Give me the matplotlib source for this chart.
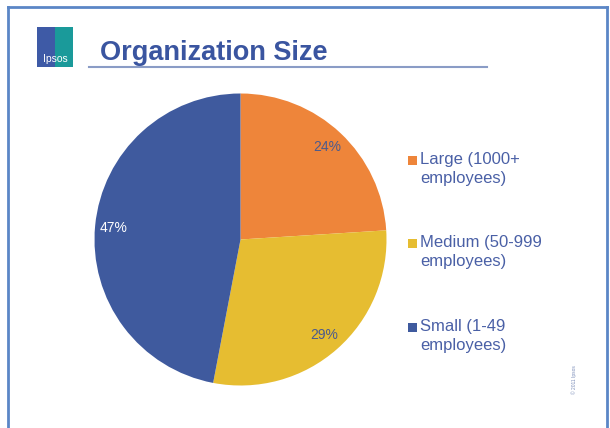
import matplotlib
matplotlib.use("Agg")
import matplotlib.pyplot as plt
from matplotlib.lines import Line2D
from matplotlib.patches import Rectangle

plt.rcParams['font.family'] = ['Liberation Sans', 'DejaVu Sans']

# Data
categories = ['Large (1000+\nemployees)', 'Medium (50-999\nemployees)', 'Small (1-49\nemployees)']
shares = [24, 29, 47]
colors = ['#EE853A', '#E6BD31', '#3F5A9E']
pct_colors = ['#4A5A8E', '#4A5A8E', 'white']
title = 'Organization Size'

W, H = 610, 428
fig = plt.figure(figsize=(W / 100, H / 100), dpi=100)
fig.patch.set_facecolor('white')

def fx(x):
    return x / W

def fy(y):
    return 1 - y / H

# slide frame (left, top, right)
frame_c = '#5B86C6'
fig.add_artist(Line2D([fx(8), fx(8)], [0, fy(7)], color=frame_c, lw=2))
fig.add_artist(Line2D([fx(8), fx(607)], [fy(7), fy(7)], color=frame_c, lw=2))
fig.add_artist(Line2D([fx(607), fx(607)], [0, fy(7)], color=frame_c, lw=2))

# logo
fig.add_artist(Rectangle((fx(37), fy(67)), fx(18), 40 / H, color='#3E5AA6', lw=0))
fig.add_artist(Rectangle((fx(55), fy(67)), fx(18), 40 / H, color='#1A9A9A', lw=0))
fig.text(fx(55), fy(59), 'Ipsos', color='white', fontsize=7.5, ha='center', va='center')

# title + underline
fig.text(fx(100), fy(60), title, color='#3A55A0', fontsize=19.5, fontweight='bold',
         ha='left', va='baseline')
fig.add_artist(Line2D([fx(89), fx(487)], [fy(67), fy(67)], color='#8A9CC6', lw=1.5))

# pie
cx, cy, r = 240.5, 239.5, 146
ax = fig.add_axes([fx(cx - r), fy(cy + r), 2 * r / W, 2 * r / H])
wedges, texts, autotexts = ax.pie(shares, colors=colors, startangle=90, counterclock=False,
                                  autopct='%d%%', pctdistance=0.87,
                                  wedgeprops=dict(linewidth=0),
                                  textprops=dict(fontsize=10))
for t, c in zip(autotexts, pct_colors):
    t.set_color(c)
ax.set_aspect('equal')
ax.set_xlim(-1, 1)
ax.set_ylim(-1, 1)
ax.axis('off')

# legend
ys = [160, 243, 327]
for lab, c, y in zip(categories, colors, ys):
    fig.add_artist(Rectangle((fx(408), fy(y + 5)), fx(9), 9 / H, color=c, lw=0))
    fig.text(fx(420), fy(y - 8), lab, color='#4A60A6', fontsize=12, ha='left', va='top',
             linespacing=1.3)

fig.text(fx(574), fy(380), '\u00a9 2011 Ipsos', color='#7A8CB8', fontsize=3.5, rotation=90,
         ha='center', va='center')

fig.savefig('out.png', dpi=100)
